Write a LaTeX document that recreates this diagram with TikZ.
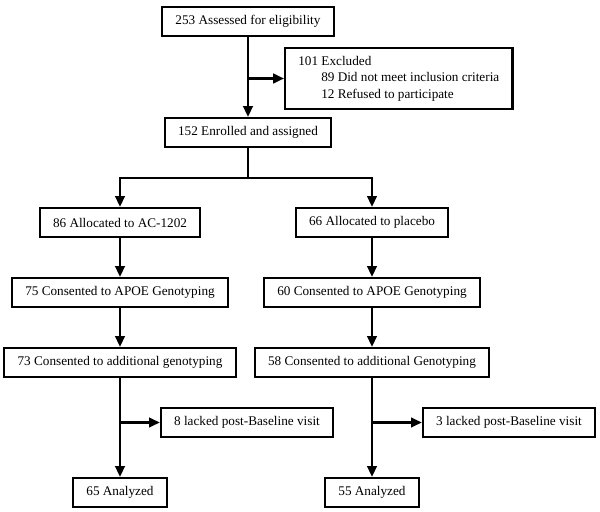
\documentclass[tikz,border=0pt]{standalone}
\usepackage{fontspec}
\setmainfont{Liberation Serif}
\usetikzlibrary{arrows.meta}
\begin{document}
\begin{tikzpicture}[x=0.025cm, y=-0.025cm, line width=1.6pt,
		flowbox/.style={draw, line width=1.6pt, inner xsep=0.33cm, minimum height=0.725cm, font=\fontsize{9.4}{11.7}\selectfont},
		>={Triangle[length=0.27cm, width=0.24cm]}]
		\useasboundingbox (0,0) rectangle (600,512);
		% BLOCKS
		\node[flowbox] (assess) at (248,21.5) {253 Assessed for eligibility};
		\node[flowbox, anchor=west, align=left, minimum height=1.525cm] (excl) at (284,78.5) {101 Excluded\\\hspace*{16.3pt}89 Did not meet inclusion criteria\\\hspace*{16.3pt}12 Refused to participate};
		\node[flowbox] (enrol) at (248,132.5) {152 Enrolled and assigned};
		\node[flowbox] (drug) at (120,222.5) {86 Allocated to AC-1202};
		\node[flowbox] (plac) at (372,222.5) {66 Allocated to placebo};
		\node[flowbox] (apoeD) at (120,292.5) {75 Consented to APOE Genotyping};
		\node[flowbox] (apoeP) at (372,292.5) {60 Consented to APOE Genotyping};
		\node[flowbox] (addD) at (120,362.5) {73 Consented to additional genotyping};
		\node[flowbox] (addP) at (372,362.5) {58 Consented to additional Genotyping};
		\node[flowbox] (lackD) at (247,422.5) {8 lacked post-Baseline visit};
		\node[flowbox] (lackP) at (509,422.5) {3 lacked post-Baseline visit};
		\node[flowbox] (anaD) at (120,492.5) {65 Analyzed};
		\node[flowbox] (anaP) at (372,492.5) {55 Analyzed};

		% ARROWS
		\coordinate (split) at (248,178);
		\draw[->] (assess) -- (enrol);
		\draw[->] (assess.south |- excl.west) -- (excl);
		\draw (enrol) -- (split);
		\draw[->] (split) -| (drug);
		\draw[->] (split) -| (plac);
		\draw[->] (drug) -- (apoeD);
		\draw[->] (plac) -- (apoeP);
		\draw[->] (apoeD) -- (addD);
		\draw[->] (apoeP) -- (addP);
		\draw[->] (addD) -- (anaD);
		\draw[->] (addP) -- (anaP);
		\draw[->] (addD.south |- lackD.west) -- (lackD);
		\draw[->] (addP.south |- lackP.west) -- (lackP);
	\end{tikzpicture}
\end{document}
